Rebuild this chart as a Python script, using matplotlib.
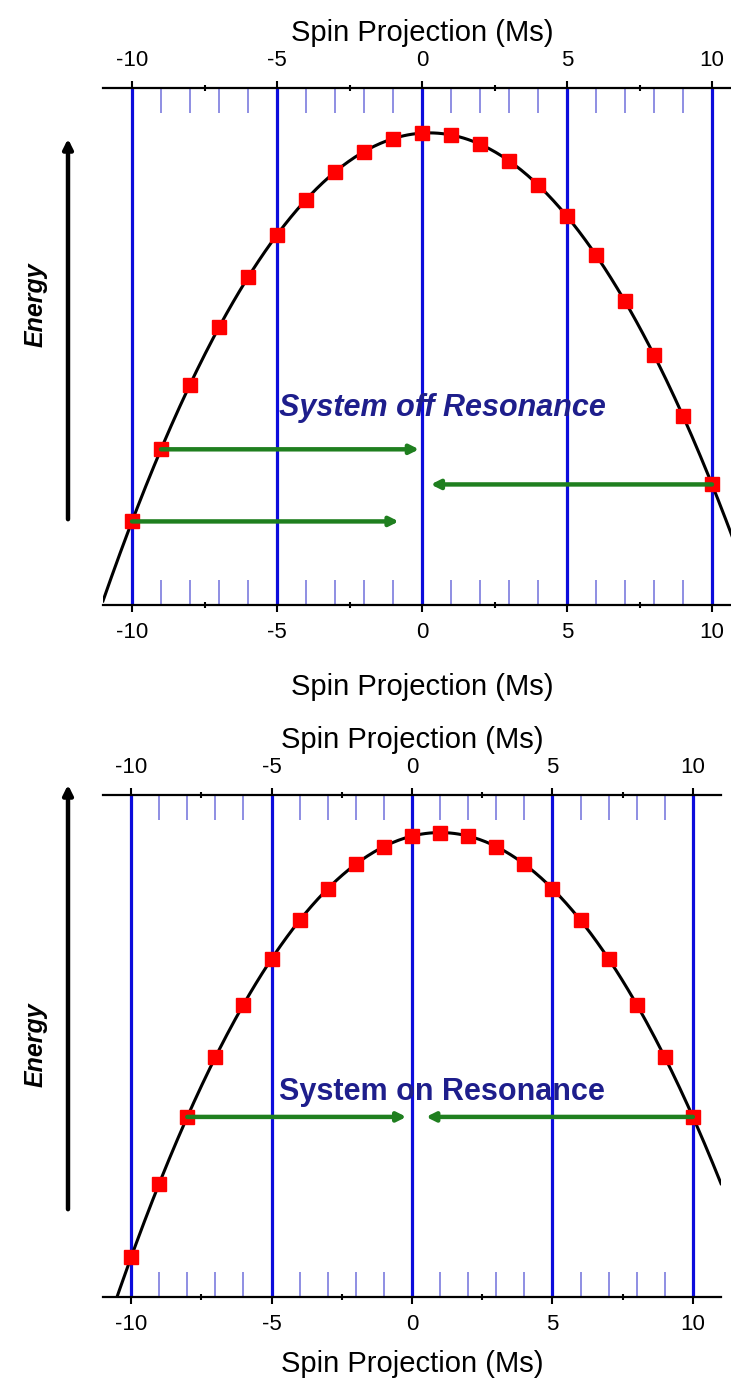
import numpy as np
import matplotlib.pyplot as plt
from matplotlib.patches import FancyArrowPatch

plt.rcParams['font.family'] = ['Liberation Sans', 'DejaVu Sans']

# spin projections and energies of the red squares
ms = [-10, -9, -8, -7, -6, -5, -4, -3, -2, -1, 0, 1, 2, 3, 4, 5, 6, 7, 8, 9, 10]
energy_off = [-105, -85.5, -68, -52.5, -39, -27.5, -18, -10.5, -5, -1.5, 0,
              -0.5, -3, -7.5, -14, -22.5, -33, -45.5, -60, -76.5, -95]
energy_on = [-121, -100, -81, -64, -49, -36, -25, -16, -9, -4, -1,
             0, -1, -4, -9, -16, -25, -36, -49, -64, -81]

# green tunnelling arrows: (start Ms, end Ms, energy)
arrows_off = [(-9, -0.1, -85.5), (10, 0.3, -95), (-10, -0.8, -105)]
arrows_on = [(-8, -0.2, -81), (10, 0.5, -81)]

major_ticks = [-10, -5, 0, 5, 10]
half_ticks = [-7.5, -2.5, 2.5, 7.5]
int_ticks = [m for m in ms if m % 5 != 0]

BLUE = '#0c0cdc'
LAVENDER = '#8686e0'
GREEN = '#1f7f1f'
NAVY = '#1e1e8c'
W, H = 731, 1382

fig = plt.figure(figsize=(W / 100, H / 100), dpi=100)


def panel(rect, xlim, ylim, energies, arrows, text, text_pos, italic, xlabelpad):
    ax = fig.add_axes(rect)
    ax.set_xlim(*xlim)
    ax.set_ylim(*ylim)
    for s in ['left', 'right']:
        ax.spines[s].set_visible(False)
    for s in ['top', 'bottom']:
        ax.spines[s].set_linewidth(1.6)
    ax.set_yticks([])
    ax.set_xticks(major_ticks)
    ax.set_xticklabels([str(t) for t in major_ticks])
    ax.set_xticks(int_ticks, minor=True)
    ax.tick_params(which='major', direction='out', length=5, width=1.5,
                   labelsize=16, top=True, labeltop=True, pad=7)
    ax.tick_params(which='minor', direction='in', length=18, width=1.3,
                   color=LAVENDER, top=True)
    ax.set_xlabel('Spin Projection (Ms)', fontsize=21, labelpad=xlabelpad)
    top = ax.secondary_xaxis('top')
    top.set_xticks([])
    top.spines['top'].set_visible(False)
    top.set_xlabel('Spin Projection (Ms)', fontsize=21, labelpad=34)

    tr = ax.get_xaxis_transform()
    ax.plot(half_ticks, [0] * len(half_ticks), '|', color='black', ms=5,
            mew=1.5, transform=tr, clip_on=False)
    ax.plot(half_ticks, [1] * len(half_ticks), '|', color='black', ms=5,
            mew=1.5, transform=tr, clip_on=False)

    for t in major_ticks:
        ax.axvline(t, color=BLUE, lw=2.3, zorder=1)

    coef = np.polyfit(ms, energies, 2)
    xs = np.linspace(xlim[0], xlim[1], 300)
    ax.plot(xs, np.polyval(coef, xs), color='black', lw=2.2, zorder=2)
    ax.plot(ms, energies, 's', color='#ff0000', ms=10, zorder=3)

    for x0, x1, e in arrows:
        ax.annotate('', xy=(x1, e), xytext=(x0, e), zorder=4,
                    arrowprops=dict(arrowstyle='-|>', color=GREEN, lw=3.2,
                                    mutation_scale=13, shrinkA=0, shrinkB=0))
    ax.text(text_pos[0], text_pos[1], text, color=NAVY, fontsize=22,
            fontweight='bold', style='italic' if italic else 'normal',
            ha='center', va='center', zorder=5)
    return ax


def frect(left_px, top_px, right_px, bottom_px):
    return [left_px / W, 1 - bottom_px / H, (right_px - left_px) / W,
            (bottom_px - top_px) / H]


panel(frect(103, 88, 741, 605), (-11, 11), (-127.6, 12.2), energy_off,
      arrows_off, 'System off Resonance', (0.7, -74.3), True, 22)
panel(frect(103, 795, 721, 1297), (-11, 11), (-132.3, 10.7), energy_on,
      arrows_on, 'System on Resonance', (1.05, -73.9), False, 11)

for y0, y1, ylab in [(522, 136, 305), (1212, 782, 1045)]:
    fig.add_artist(FancyArrowPatch((68 / W, 1 - y0 / H), (68 / W, 1 - y1 / H),
                                   transform=fig.transFigure,
                                   arrowstyle='-|>', mutation_scale=14,
                                   lw=3.2, color='black'))
    fig.text(36 / W, 1 - ylab / H, 'Energy', rotation=90, fontsize=18,
             fontweight='bold', style='italic', ha='center', va='center')

fig.savefig('out.png', dpi=100)
